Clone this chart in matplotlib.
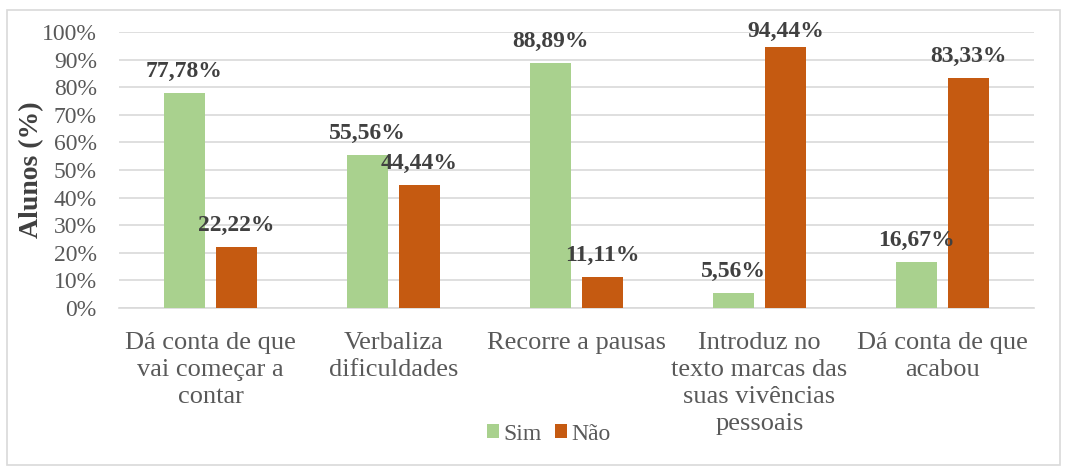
import matplotlib
matplotlib.use("Agg")
import matplotlib.pyplot as plt
import numpy as np
from matplotlib.patches import Rectangle

categories = ["Dá conta de que\nvai começar a\ncontar", "Verbaliza\ndificuldades", "Recorre a pausas",
              "Introduz no\ntexto marcas das\nsuas vivências\npessoais", "Dá conta de que\nacabou"]
sim = [77.78, 55.56, 88.89, 5.56, 16.67]
nao = [22.22, 44.44, 11.11, 94.44, 83.33]
series_names = ["Sim", "Não"]
yticks = [0, 10, 20, 30, 40, 50, 60, 70, 80, 90, 100]

FAM = ['Liberation Serif', 'DejaVu Serif']
plt.rcParams['font.family'] = FAM
green = "#A9D18E"
orange = "#C55A11"
txt = "#595959"

W, H = 1067, 471
fig = plt.figure(figsize=(W/100, H/100), dpi=100)
ax = fig.add_axes([119/W, 1 - 308/H, 915/W, (308-32)/H])

x = np.arange(len(categories))
w = 0.224
off = 0.142
b1 = ax.bar(x - off, sim, w, color=green, label=series_names[0], zorder=3)
b2 = ax.bar(x + off, nao, w, color=orange, label=series_names[1], zorder=3)

def fmt(v):
    return f"{v:.2f}".replace(".", ",") + "%"

labels = []
for bars, vals in ((b1, sim), (b2, nao)):
    for r, v in zip(bars, vals):
        t = ax.annotate(fmt(v), (r.get_x() + r.get_width()/2, v), xytext=(0, 8),
                        textcoords="offset points", ha="center", va="bottom",
                        fontsize=17, fontweight="bold", color="#404040", zorder=4,
                        family=FAM, annotation_clip=False)
        labels.append(t)

ax.set_xlim(-0.5, len(categories) - 0.5)
ax.set_ylim(0, 100)
ax.set_yticks(yticks)
ax.set_yticklabels([f"{t}%" for t in yticks], fontsize=17, color=txt, family=FAM)
ax.set_xticks(x)
ax.set_xticklabels(categories, fontsize=19, color=txt, linespacing=1.31, family=FAM)
ax.tick_params(axis="both", length=0)
ax.tick_params(axis="x", pad=17)
ax.tick_params(axis="y", pad=16)
ax.yaxis.grid(True, color="#D9D9D9", linewidth=1.2, zorder=0)
for s in ["top", "right", "left"]:
    ax.spines[s].set_visible(False)
ax.spines["bottom"].set_color("#D9D9D9")
ax.spines["bottom"].set_linewidth(1.2)
ax.set_ylabel("Alunos (%)", fontsize=20, fontweight="bold", color="#404040", family=FAM)
ax.yaxis.set_label_coords(-0.082, 0.5)

leg = fig.legend(loc="center", bbox_to_anchor=(549/W, 1 - 434/H), ncol=2, frameon=False,
                 prop={'family': FAM, 'size': 17}, handlelength=0.5, handleheight=0.5,
                 handletextpad=0.2, columnspacing=0.55, labelcolor=txt)

fig.patches.append(Rectangle((7/W, 1 - 465/H), (1060-7)/W, (465-10)/H,
                             transform=fig.transFigure, fill=False, edgecolor="#D9D9D9",
                             linewidth=1.2))

# keep labels inside the chart area (top limit like the original)
fig.canvas.draw()
renderer = fig.canvas.get_renderer()
top_limit = H - 21  # display pixels from bottom
for t in labels:
    bb = t.get_window_extent(renderer)
    if bb.y1 > top_limit:
        shift_pt = (bb.y1 - top_limit) * 72 / fig.dpi
        t.set_position((0, 8 - shift_pt))

fig.savefig("out.png", dpi=100)
